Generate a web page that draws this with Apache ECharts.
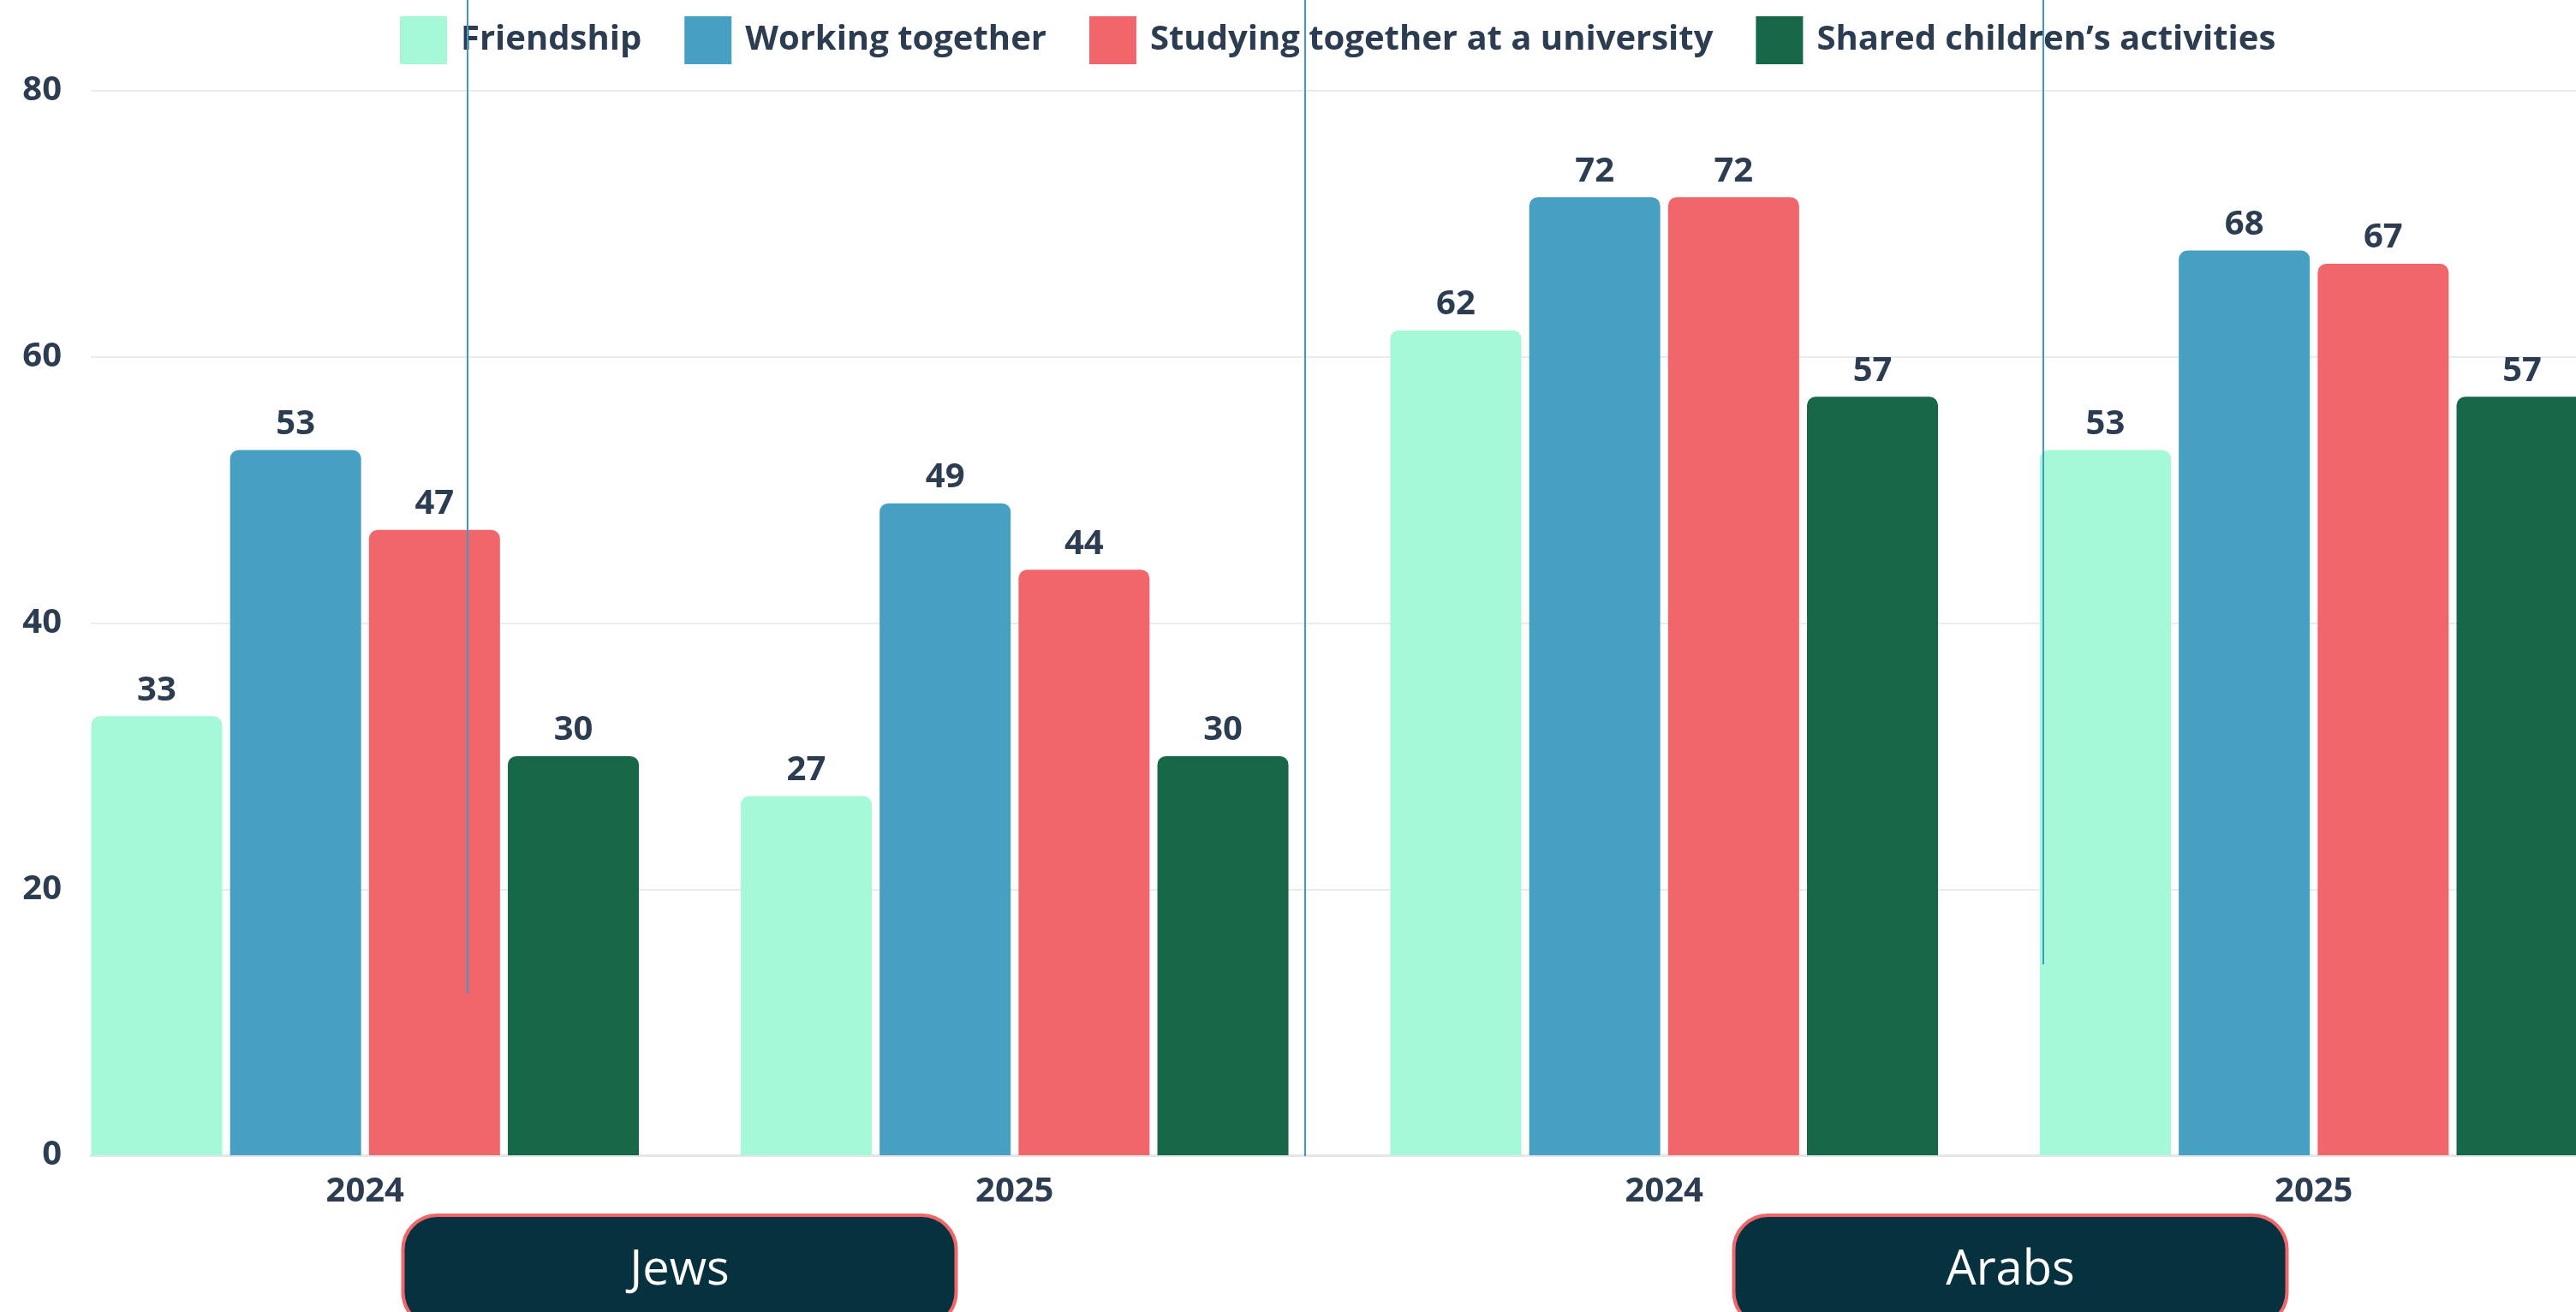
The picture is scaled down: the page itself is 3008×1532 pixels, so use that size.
<!DOCTYPE html>
<html>
<head>
<meta charset="utf-8">
<script src="https://cdn.jsdelivr.net/npm/echarts@6/dist/echarts.min.js"></script>
<style>
  html, body { margin: 0; padding: 0; background: #ffffff; }
  #chart { width: 3008px; height: 1532px; }
</style>
</head>
<body>
<div id="chart"></div>
<script>
// categories
var years = ['2024', '2025', '2024', '2025'];
var populations = ['Jews', 'Arabs'];

// series values (%)
var friendship = [33, 27, 62, 53];
var workingTogether = [53, 49, 72, 68];
var studyingTogether = [47, 44, 72, 67];
var childrenActivities = [30, 30, 57, 57];

var seriesNames = ['Friendship', 'Working together', 'Studying together at a university', 'Shared children\u2019s activities'];
var seriesColors = ['#a6f9d7', '#479fc2', '#f1666a', '#176749'];

// y axis ticks
var yMin = 0;
var yMax = 80;
var yStep = 20;

var textColor = '#2d3d51';
var fontFamily = '"Open Sans", "Noto Sans", sans-serif';

var chart = echarts.init(document.getElementById('chart'));

function makeBar(name, values, color)
{
	return {
		name: name,
		type: 'bar',
		xAxisIndex: 0,
		yAxisIndex: 0,
		data: values,
		barWidth: 153,
		barGap: '6%',
		itemStyle: { color: color, borderRadius: [10, 10, 0, 0] },
		label: {
			show: true,
			position: 'top',
			distance: 10,
			color: textColor,
			fontFamily: fontFamily,
			fontWeight: 'bold',
			fontSize: 40
		}
	};
}

var option = {
	animation: false,
	backgroundColor: '#ffffff',
	color: seriesColors,
	legend: {
		data: seriesNames,
		left: 462,
		top: 14,
		icon: 'rect',
		itemWidth: 55,
		itemHeight: 56,
		itemGap: 50,
		textStyle: {
			color: textColor,
			fontFamily: fontFamily,
			fontWeight: 'bold',
			fontSize: 40,
			padding: [0, 0, 0, 11]
		}
	},
	grid: [
		// bars
		{ left: 47, right: -73, top: 106, bottom: 183, outerBoundsMode: 'none' },
		// grid lines and y labels
		{ left: 106, right: 0, top: 106, bottom: 183, outerBoundsMode: 'none' }
	],
	xAxis: [
		{
			gridIndex: 0,
			type: 'category',
			data: years,
			axisLine: { show: false },
			axisTick: { show: false },
			axisLabel: {
				margin: 23,
				color: textColor,
				fontFamily: fontFamily,
				fontWeight: 'bold',
				fontSize: 40
			}
		},
		{
			gridIndex: 0,
			type: 'category',
			data: populations,
			position: 'bottom',
			axisLine: { show: false },
			axisTick: { show: false },
			axisLabel: {
				margin: 72,
				align: 'center',
				// the boxes sit a little off the group centres
				formatter: function (v) {
					return v === 'Jews' ? '{box|' + v + '}{padR| }' : '{padL| }{box|' + v + '}';
				},
				rich: {
					box: {
						color: '#ffffff',
						fontFamily: fontFamily,
						fontWeight: 'normal',
						fontSize: 56,
						width: 642,
						height: 126,
						lineHeight: 126,
						align: 'center',
						backgroundColor: '#06313f',
						borderColor: '#f0666a',
						borderWidth: 4,
						borderRadius: 38
					},
					padR: { width: 24, height: 126, fontSize: 10 },
					padL: { width: 50, height: 126, fontSize: 10 }
				}
			}
		},
		{
			gridIndex: 1,
			type: 'value',
			min: 0,
			max: 1,
			axisLine: { show: true, lineStyle: { color: '#e4e6e9', width: 3 } },
			axisTick: { show: false },
			axisLabel: { show: false },
			splitLine: { show: false }
		}
	],
	yAxis: [
		{
			gridIndex: 0,
			type: 'value',
			min: yMin,
			max: yMax,
			interval: yStep,
			show: false
		},
		{
			gridIndex: 1,
			type: 'value',
			min: yMin,
			max: yMax,
			interval: yStep,
			axisLine: { show: false },
			axisTick: { show: false },
			axisLabel: {
				margin: 34,
				color: textColor,
				fontFamily: fontFamily,
				fontWeight: 'bold',
				fontSize: 40
			},
			splitLine: { lineStyle: { color: '#e9ebee', width: 2 } }
		}
	],
	series: [
		makeBar(seriesNames[0], friendship, seriesColors[0]),
		makeBar(seriesNames[1], workingTogether, seriesColors[1]),
		makeBar(seriesNames[2], studyingTogether, seriesColors[2]),
		makeBar(seriesNames[3], childrenActivities, seriesColors[3])
	],
	// thin separator strokes that sit over the picture
	graphic: [
		{ type: 'line', z: 100, shape: { x1: 546, y1: 0, x2: 546, y2: 1160 }, style: { stroke: '#3f98c6', lineWidth: 2 } },
		{ type: 'line', z: 100, shape: { x1: 1524, y1: 0, x2: 1524, y2: 1350 }, style: { stroke: '#3f98c6', lineWidth: 2 } },
		{ type: 'line', z: 100, shape: { x1: 2386, y1: 0, x2: 2386, y2: 1126 }, style: { stroke: '#3f98c6', lineWidth: 2 } }
	]
};

chart.setOption(option);
</script>
</body>
</html>
